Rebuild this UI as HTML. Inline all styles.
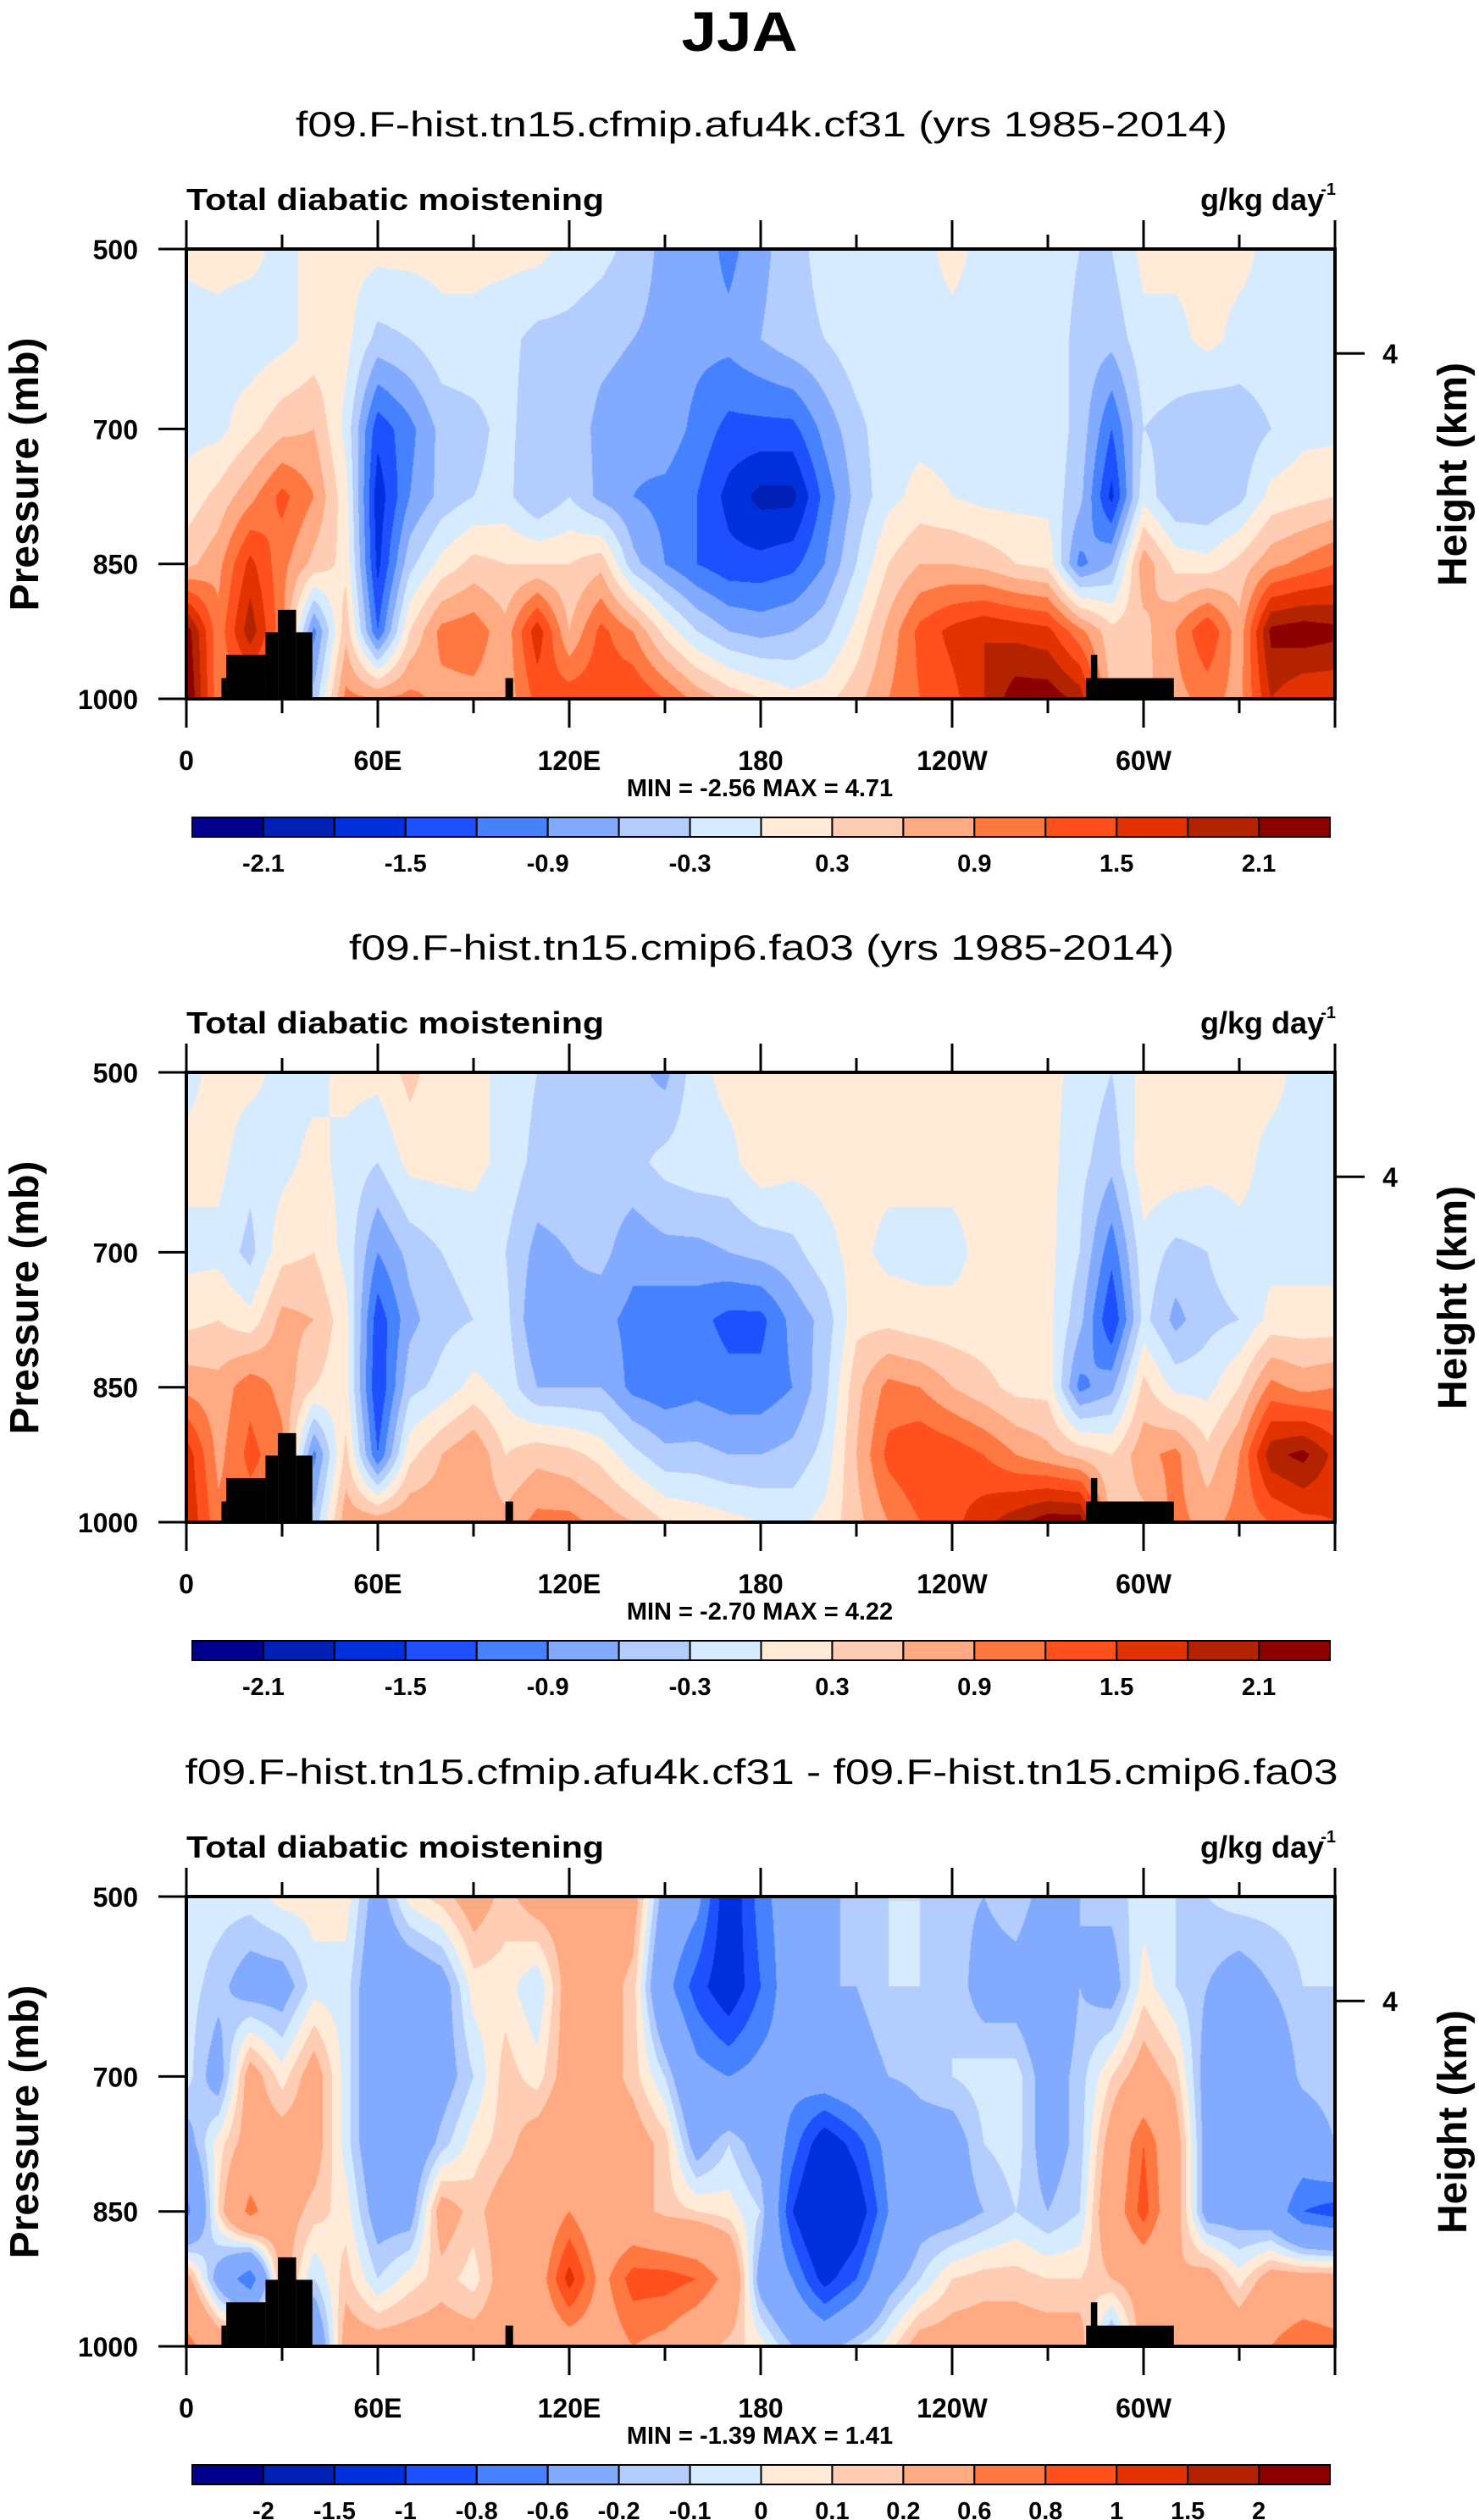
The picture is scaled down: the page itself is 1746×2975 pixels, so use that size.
<!DOCTYPE html>
<html><head><meta charset="utf-8">
<style>
html,body{margin:0;padding:0;background:#fff;}
#wrap{position:relative;width:1746px;height:2975px;overflow:hidden;background:#fff;}
canvas{position:absolute;}
svg{position:absolute;left:0;top:0;}
text{font-family:"Liberation Sans",sans-serif;fill:#000;}
</style></head>
<body>
<div id="wrap">
<canvas id="c0" width="1356" height="531" style="left:220px;top:294px"></canvas>
<canvas id="c1" width="1356" height="531" style="left:220px;top:1266px"></canvas>
<canvas id="c2" width="1356" height="531" style="left:220px;top:2239px"></canvas>
<svg id="ov" width="1746" height="2975" xmlns="http://www.w3.org/2000/svg">
<text x="873" y="60" text-anchor="middle" font-size="66" font-weight="bold" textLength="137" lengthAdjust="spacingAndGlyphs">JJA</text>
</svg>
</div>
<script>
// ---- data ----
const lons = [0,10,20,30,40,50,60,70,80,90,100,110,120,130,140,150,160,170,180,190,200,210,220,230,240,250,260,270,280,290,300,310,320,330,340,350,360];
const pressures = [500,600,700,775,850,925,1000];
// each row: one longitude, values at pressures 500..1000
const panel1Values = [
[0.05,-0.1,-0.1,0.1,0.5,2.3,2.5],[0.1,-0.1,-0.1,0.4,0.8,1.0,1.0],[0.1,-0.2,0.2,0.8,1.6,2.0,1.0],[-0.1,-0.1,0.5,1.3,1.0,1.0,1.0],
[0.1,0.1,0.6,0.9,0.5,-1.0,-0.5],[0.1,0.1,-0.1,0.1,0.2,0.5,1.0],[0.1,-0.4,-1.4,-1.7,-1.6,-1.2,0.9],[0.1,-0.3,-1.0,-0.9,-0.4,0.3,1.0],
[0.1,-0.1,-0.5,-0.5,0.1,1.0,0.8],[0.1,-0.1,-0.4,-0.3,0.4,1.1,0.8],[0.1,-0.2,-0.2,-0.2,0.3,0.7,0.7],[0.1,-0.4,-0.5,-0.6,0.3,1.7,1.3],
[-0.1,-0.4,-0.4,-0.3,0.3,0.6,1.4],[-0.2,-0.5,-0.7,-0.7,0.5,1.3,1.4],[-0.4,-0.6,-0.8,-0.9,-0.5,0.9,1.5],[-0.7,-0.7,-0.7,-1.0,-0.9,0.2,1.2],
[-0.7,-0.8,-1.0,-1.2,-1.2,-0.3,0.8],[-1.0,-0.8,-1.3,-1.6,-1.4,-0.6,0.5],[-0.7,-0.6,-1.3,-1.9,-1.4,-0.7,0.3],[-0.4,-0.4,-1.3,-1.9,-1.3,-0.6,0.1],
[-0.2,-0.3,-0.8,-1.1,-0.9,-0.4,0.2],[-0.1,-0.1,-0.4,-0.5,-0.3,0.1,0.5],[-0.1,-0.1,-0.1,-0.1,0.3,0.7,0.9],[-0.1,-0.1,-0.1,0.1,0.6,1.3,1.2],
[0.1,-0.1,-0.1,0.0,0.6,1.6,1.4],[-0.1,-0.1,-0.1,-0.1,0.5,1.8,1.8],[-0.1,-0.1,-0.1,-0.1,0.3,1.7,2.3],[-0.1,-0.1,-0.1,-0.1,0.2,1.6,2.3],
[-0.3,-0.4,-0.4,-0.5,-1.0,1.0,2.0],[-0.3,-0.5,-1.2,-1.6,-0.6,0.4,0.5],[0.1,-0.1,-0.3,-0.1,0.8,0.5,0.5],[0.1,-0.1,-0.4,-0.6,0.2,0.9,0.8],
[0.1,0.1,-0.6,-0.6,0.1,1.5,1.0],[0.1,-0.1,-0.5,-0.4,0.4,0.7,0.8],[-0.1,-0.1,-0.3,0.1,0.8,2.2,1.8],[-0.1,-0.1,-0.1,0.2,1.0,2.3,1.5],
[-0.1,-0.1,-0.1,0.3,1.2,2.2,1.5]];
const panel2Values = [
[-0.1,0.1,-0.1,0.2,0.8,1.7,1.8],[0.1,0.1,-0.1,0.3,0.7,0.8,1.0],[0.1,-0.2,-0.4,0.1,1.1,1.3,1.0],[-0.1,-0.1,0.2,0.7,0.8,1.0,1.0],
[-0.1,0.1,0.3,0.6,0.3,-1.0,-0.5],[0.1,-0.1,-0.1,0.1,0.1,0.4,0.8],[0.1,-0.3,-0.9,-1.4,-1.5,-1.2,0.8],[0.4,0.1,-0.5,-0.7,-0.4,0.2,0.9],
[0.1,0.1,-0.3,-0.4,-0.2,0.6,0.8],[0.1,0.1,-0.2,-0.3,0.1,0.9,0.8],[-0.1,-0.1,-0.3,-0.2,-0.1,0.3,0.7],[-0.3,-0.4,-0.7,-0.9,-0.6,0.5,1.0],
[-0.4,-0.4,-0.6,-0.7,-0.6,0.4,1.0],[-0.4,-0.4,-0.5,-0.8,-0.6,0.2,0.8],[-0.5,-0.4,-0.8,-1.0,-1.0,-0.2,0.6],[-0.7,-0.2,-0.7,-1.1,-1.1,-0.5,0.3],
[-0.1,-0.1,-0.7,-1.1,-1.0,-0.5,0.2],[0.1,-0.1,-0.6,-1.3,-1.1,-0.6,0.1],[0.1,0.2,-0.5,-1.3,-1.1,-0.6,0.0],[0.3,0.1,-0.4,-0.8,-0.9,-0.5,-0.1],
[0.1,0.1,-0.1,-0.5,-0.4,-0.2,0.1],[0.1,0.1,0.1,0.2,0.5,0.6,0.5],[0.1,0.1,-0.1,0.2,1.0,1.3,0.9],[0.1,0.1,-0.1,0.1,0.9,1.5,1.2],
[0.1,0.1,-0.1,0.1,0.6,1.4,1.4],[0.1,0.1,0.1,0.1,0.4,1.2,1.7],[0.1,0.1,0.1,0.1,0.2,0.9,2.0],[0.1,0.1,0.1,0.1,0.2,0.7,2.3],
[-0.1,-0.2,-0.3,-0.5,-1.0,0.5,2.3],[-0.3,-0.5,-1.1,-1.5,-0.7,0.3,0.5],[0.1,0.2,-0.1,-0.2,0.4,0.8,0.5],[0.1,0.2,-0.4,-0.7,-0.1,1.0,1.0],
[0.1,0.1,-0.3,-0.4,-0.1,0.4,0.8],[0.1,0.1,-0.1,-0.3,0.3,0.9,1.0],[0.1,-0.1,-0.1,0.1,1.0,2.0,1.2],[-0.1,-0.1,-0.1,0.1,0.8,2.2,1.4],
[-0.1,-0.1,-0.1,0.1,0.9,1.7,1.5]];
const panel3Values = [
[-0.05,-0.05,-0.05,-0.3,-0.7,0.3,0.7],[-0.05,-0.15,-0.3,0.05,0.1,-0.3,0.4],[-0.05,-0.3,0.3,0.3,0.7,-0.8,0.4],[0.05,-0.3,0.05,0.3,0.3,0.3,0.3],
[0.05,-0.05,0.3,0.3,0.15,-0.1,-0.5],[0.05,-0.05,-0.05,-0.05,0.05,0.15,0.3],[-0.3,-0.4,-0.4,-0.4,-0.3,-0.1,0.3],[0.05,-0.4,-0.4,-0.4,-0.3,0.05,0.3],
[0.15,-0.3,-0.3,-0.15,0.3,0.15,0.3],[0.3,0.05,-0.1,0.05,0.15,0.05,0.3],[0.15,0.05,0.15,0.15,0.3,0.3,0.3],[0.3,-0.1,0.05,0.3,0.3,0.4,0.3],
[0.3,0.3,0.3,0.4,0.6,1.1,0.4],[0.4,0.3,0.3,0.3,0.3,0.5,0.4],[0.3,0.15,0.15,0.3,0.3,0.9,0.6],[-0.3,-0.5,-0.1,0.15,0.15,0.9,0.5],
[-0.5,-0.9,-0.5,-0.3,0.1,0.8,0.3],[-1.2,-1.2,-0.6,-0.1,0.05,0.5,0.15],[-0.7,-0.8,-0.5,-0.3,-0.1,-0.3,0.05],[-0.4,-0.4,-0.5,-0.7,-1.0,-0.6,-0.2],
[-0.3,-0.2,-0.4,-1.2,-1.5,-1.1,-0.3],[-0.1,-0.2,-0.3,-0.9,-1.2,-0.8,-0.1],[-0.1,-0.1,-0.2,-0.5,-0.6,-0.3,0.05],[-0.1,-0.1,-0.15,-0.3,-0.3,-0.1,0.3],
[-0.15,-0.1,-0.1,-0.3,-0.3,0.1,0.3],[-0.2,-0.3,-0.05,-0.1,-0.2,0.15,0.3],[-0.1,-0.3,-0.05,-0.05,-0.1,0.15,0.3],[-0.3,-0.4,-0.3,-0.3,-0.2,0.1,0.3],
[-0.2,-0.2,-0.15,-0.15,-0.1,0.1,0.3],[-0.15,-0.3,0.1,0.3,0.4,0.2,-0.3],[-0.05,0.05,0.3,0.8,0.9,0.3,0.3],[-0.1,-0.1,0.15,0.3,0.3,0.2,0.3],
[-0.1,-0.2,-0.3,-0.3,-0.3,0.3,0.5],[-0.05,-0.3,-0.4,-0.3,-0.3,0.05,0.4],[-0.05,-0.2,-0.4,-0.3,-0.4,0.3,0.6],[-0.05,-0.1,-0.15,-0.4,-0.8,0.3,0.8],
[-0.05,-0.1,-0.1,-0.2,-0.9,0.3,0.7]];
const levelsAbs = [-2.1,-1.8,-1.5,-1.2,-0.9,-0.6,-0.3,0,0.3,0.6,0.9,1.2,1.5,1.8,2.1];
const levelsDiff = [-2,-1.5,-1,-0.8,-0.6,-0.2,-0.1,0,0.1,0.2,0.6,0.8,1,1.5,2];
const labelsAbs = ["-2.1","-1.5","-0.9","-0.3","0.3","0.9","1.5","2.1"];
const labelsDiff = ["-2","-1.5","-1","-0.8","-0.6","-0.2","-0.1","0","0.1","0.2","0.6","0.8","1","1.5","2"];
const subtitles = ["f09.F-hist.tn15.cfmip.afu4k.cf31 (yrs 1985-2014)","f09.F-hist.tn15.cmip6.fa03 (yrs 1985-2014)","f09.F-hist.tn15.cfmip.afu4k.cf31 - f09.F-hist.tn15.cmip6.fa03"];
const minmax = ["MIN = -2.56  MAX =  4.71","MIN = -2.70  MAX =  4.22","MIN = -1.39  MAX =  1.41"];
const xTickLabels = ["0","60E","120E","180","120W","60W"];
const xTickLons = [0,60,120,180,240,300];
const yTickP = [500,700,850,1000];
// topography blocks: [lon start, lon end, top pressure]
const topoLon0 = [11,12.5,24.8,28.7,34.4,100,282,283.5];
const topoLon1 = [12.5,24.8,28.7,34.4,39.5,102.4,309.5,285.5];
const topoTop = [977,951,926,901,926,977,977,951];
const palette = ["#00008C","#0020B4","#0030DC","#1E50FF","#4682FF","#82AAFF","#B4CDFF","#D7EBFF","#FFEBD7","#FFCDB4","#FFAA82","#FF7841","#FF501E","#E13200","#B42300","#8C0000"];

// ---- geometry ----
const PL=220, PW=1356, PH=531;
const panelTops=[294,1266,2239];
const xS = lon => PL + lon/360*PW;
const yS = (p,top) => top + (p-500)/500*PH;
const NS="http://www.w3.org/2000/svg";
const ov=document.getElementById('ov');
function mk(tag,attrs,txt){const e=document.createElementNS(NS,tag);for(const k in attrs)e.setAttribute(k,attrs[k]);if(txt!==undefined)e.textContent=txt;ov.appendChild(e);return e;}

const rgb = palette.map(h=>[parseInt(h.substr(1,2),16),parseInt(h.substr(3,2),16),parseInt(h.substr(5,2),16)]);
function colorIdx(v,lev){let i=0;while(i<lev.length&&v>=lev[i])i++;return i;}
function sample(vals,lon,p){
  let i=Math.min(Math.floor(lon/10),lons.length-2);const fx=(lon-lons[i])/10;
  let j=0;while(j<pressures.length-2&&p>pressures[j+1])j++;
  const fy=(p-pressures[j])/(pressures[j+1]-pressures[j]);
  const a=vals[i][j],b=vals[i+1][j],c=vals[i][j+1],d=vals[i+1][j+1];
  return (a*(1-fx)+b*fx)*(1-fy)+(c*(1-fx)+d*fx)*fy;
}
const allVals=[panel1Values,panel2Values,panel3Values];
allVals.forEach((vals,k)=>{
  const cv=document.getElementById('c'+k);const ctx=cv.getContext('2d');
  const img=ctx.createImageData(PW,PH);const lev=k===2?levelsDiff:levelsAbs;
  for(let y=0;y<PH;y++){const p=500+(y+0.5)/PH*500;
    for(let x=0;x<PW;x++){const lon=(x+0.5)/PW*360;const c=rgb[colorIdx(sample(vals,lon,p),lev)];
      const o=(y*PW+x)*4;img.data[o]=c[0];img.data[o+1]=c[1];img.data[o+2]=c[2];img.data[o+3]=255;}}
  ctx.putImageData(img,0,0);
});

panelTops.forEach((top,k)=>{
  const dy=top-294;
  for(let t=0;t<topoLon0.length;t++){
    const r=mk('rect',{x:xS(topoLon0[t]),y:yS(topoTop[t],top),width:xS(topoLon1[t])-xS(topoLon0[t]),height:yS(1000,top)-yS(topoTop[t],top),fill:'#000'});
    
    
  }
  const fr=mk('rect',{x:PL,y:top,width:PW,height:PH,fill:'none',stroke:'#000','stroke-width':4});
  
  
  const st=mk('text',{x:899,y:161+dy,'text-anchor':'middle','font-size':42,textLength:[1100,974,1361][k],lengthAdjust:'spacingAndGlyphs'},subtitles[k]);
  
  
  const lt=mk('text',{x:220,y:248+dy,'font-size':36,'font-weight':'bold',textLength:493,lengthAdjust:'spacingAndGlyphs'},'Total diabatic moistening');
  
  
  const ut=mk('text',{x:1563,y:248+dy,'text-anchor':'end','font-size':36,'font-weight':'bold'},'g/kg day');
  
  
  const us=mk('text',{x:1577,y:230+dy,'text-anchor':'end','font-size':20,'font-weight':'bold'},'-1');
  
  
  for(let lon=0;lon<=360;lon+=30){const major=lon%60===0;const x=xS(lon);
    const t1=mk('line',{x1:x,x2:x,y1:top,y2:top-(major?34:17),stroke:'#000','stroke-width':3});
    
    
    const t2=mk('line',{x1:x,x2:x,y1:top+PH,y2:top+PH+(major?34:17),stroke:'#000','stroke-width':3});
    
    }
  xTickLabels.forEach((s,i)=>{const e=mk('text',{x:xS(xTickLons[i]),y:909+dy,'text-anchor':'middle','font-size':32,'font-weight':'bold'},s);
    
    });
  yTickP.forEach(p=>{const y=yS(p,top);
    const l=mk('line',{x1:187,x2:PL,y1:y,y2:y,stroke:'#000','stroke-width':3});
    
    
    const e=mk('text',{x:163,y:y+12,'text-anchor':'end','font-size':32,'font-weight':'bold'},String(p));
    
    });
  const hy=yS(616,top);
  const hl=mk('line',{x1:PL+PW,x2:1611,y1:hy,y2:hy,stroke:'#000','stroke-width':3});
  
  
  const ht=mk('text',{x:1641,y:hy+12,'text-anchor':'middle','font-size':32,'font-weight':'bold'},'4');
  
  
  const ya=mk('text',{x:0,y:0,'text-anchor':'middle','font-size':48,'font-weight':'bold',transform:`translate(45,${560+dy}) rotate(-90)`},'Pressure (mb)');
  
  
  const ra=mk('text',{x:0,y:0,'text-anchor':'middle','font-size':48,'font-weight':'bold',transform:`translate(1731,${560+dy}) rotate(-90)`},'Height (km)');
  
  
  const mm=mk('text',{x:897,y:940+dy,'text-anchor':'middle','font-size':29,'font-weight':'bold','xml:space':'preserve'},minmax[k]);
  
  
  const cbx=227,cbw=1343/16,cby=965+dy;
  palette.forEach((c,i)=>{const r=mk('rect',{x:cbx+i*cbw,y:cby,width:cbw,height:23,fill:c,stroke:'#000','stroke-width':2});
    
    });
  const labs=k===2?labelsDiff:labelsAbs;
  labs.forEach((s,i)=>{const bi=k===2?i+1:2*i+1;
    const e=mk('text',{x:cbx+bi*cbw,y:1029+dy,'text-anchor':'middle','font-size':29,'font-weight':'bold'},s);
    
    });
});
</script>
</body></html>
